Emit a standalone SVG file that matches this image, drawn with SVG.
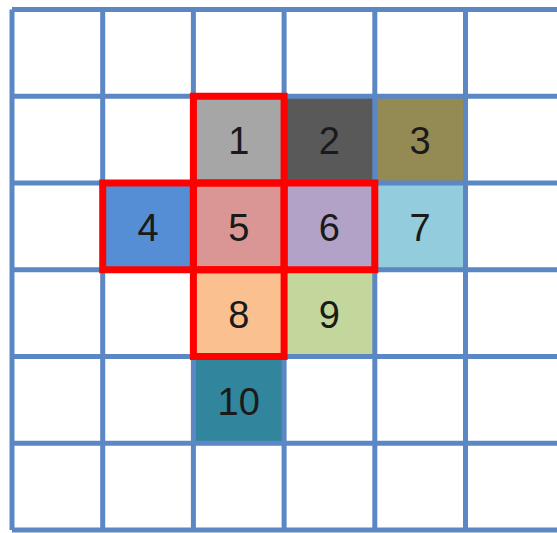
<svg xmlns="http://www.w3.org/2000/svg" width="557" height="533" viewBox="0 0 557 533">
<style>
.grid{stroke:#5b87c5;stroke-width:5;fill:none}
.sel{stroke:#ff0000;stroke-width:7;fill:none}
.lbl{font-family:"Liberation Sans",Arial,sans-serif;font-size:38px;fill:#1a1a1a;text-anchor:middle;dominant-baseline:central}
</style>
<rect width="557" height="533" fill="#ffffff"/>
<g id="cells">
<g id="c1"><rect x="193.4" y="96.25" width="90.7" height="86.75" fill="#a6a6a6"/><text class="lbl" x="238.7" y="141">1</text></g>
<g id="c2"><rect x="284.1" y="96.25" width="90.7" height="86.75" fill="#595959"/><text class="lbl" x="329.4" y="141">2</text></g>
<g id="c3"><rect x="374.8" y="96.25" width="90.7" height="86.75" fill="#948a54"/><text class="lbl" x="420.1" y="141">3</text></g>
<g id="c4"><rect x="102.7" y="183" width="90.7" height="86.75" fill="#558ed5"/><text class="lbl" x="148" y="228">4</text></g>
<g id="c5"><rect x="193.4" y="183" width="90.7" height="86.75" fill="#d99694"/><text class="lbl" x="238.7" y="228">5</text></g>
<g id="c6"><rect x="284.1" y="183" width="90.7" height="86.75" fill="#b3a2c7"/><text class="lbl" x="329.4" y="228">6</text></g>
<g id="c7"><rect x="374.8" y="183" width="90.7" height="86.75" fill="#93cddd"/><text class="lbl" x="420.1" y="228">7</text></g>
<g id="c8"><rect x="193.4" y="269.75" width="90.7" height="86.75" fill="#fac090"/><text class="lbl" x="238.7" y="314.5">8</text></g>
<g id="c9"><rect x="284.1" y="269.75" width="90.7" height="86.75" fill="#c3d69b"/><text class="lbl" x="329.4" y="314.5">9</text></g>
<g id="c10"><rect x="193.4" y="356.5" width="90.7" height="86.75" fill="#31859c"/><text class="lbl" x="238.7" y="402">10</text></g>
</g>
<g id="grid" class="grid">
<path d="M12 9.5V530M102.7 9.5V530M193.4 9.5V530M284.1 9.5V530M374.8 9.5V530M465.5 9.5V530"/>
<path d="M12 9.5H557M12 96.25H557M12 183H557M12 269.75H557M12 356.5H557M12 443.25H557M12 530H557"/>
</g>
<g id="selection" class="sel">
<rect x="193.4" y="96.25" width="90.7" height="86.75"/>
<rect x="102.7" y="183" width="90.7" height="86.75"/>
<rect x="193.4" y="183" width="90.7" height="86.75"/>
<rect x="284.1" y="183" width="90.7" height="86.75"/>
<rect x="193.4" y="269.75" width="90.7" height="86.75"/>
</g>
</svg>
